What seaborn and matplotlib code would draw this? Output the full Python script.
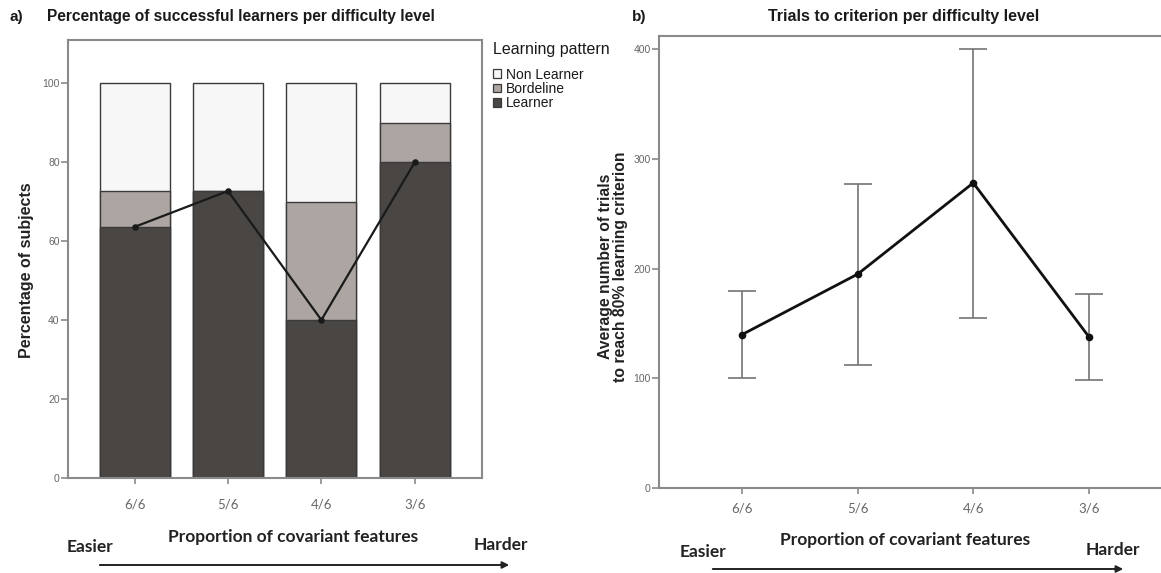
import numpy as np
import pandas as pd
import matplotlib
matplotlib.use("Agg")
import matplotlib.pyplot as plt
from matplotlib.patches import Patch, FancyArrowPatch
import seaborn as sns

# ---- data -------------------------------------------------------------
levels = ["6/6", "5/6", "4/6", "3/6"]

# percentage of subjects per learning pattern (panel a)
learner = [63.6, 72.7, 40.0, 80.0]
borderline = [9.1, 0.0, 30.0, 10.0]
non_learner = [27.3, 27.3, 30.0, 10.0]

# trials to criterion (panel b): mean with lower / upper interval bounds
trials_mean = [140, 195, 278, 138]
trials_low = [100, 112, 155, 99]
trials_high = [180, 277, 400, 177]

pattern_labels = ["Non Learner", "Bordeline", "Learner"]

# ---- style ------------------------------------------------------------
sns.set_theme(style="white")
plt.rcParams["font.family"] = ["Liberation Sans", "DejaVu Sans"]

C_LEARN = "#4a4644"
C_BORDER = "#aca5a2"
C_NON = "#f7f7f7"
C_EDGE = "#3a3a3a"
C_SPINE = "#8a8a8a"
C_TICK = "#666666"

W, H = 1161, 573
fig = plt.figure(figsize=(W / 100, H / 100), dpi=100)


def px(x, y):
    return x / W, 1 - y / H


def box(l, t, r, b):
    return [l / W, 1 - b / H, (r - l) / W, (b - t) / H]


ax1 = fig.add_axes(box(68, 40, 482, 477.7))
ax2 = fig.add_axes(box(659, 35.7, 1172, 488.3))

# ---- panel a: stacked bars -------------------------------------------
df = pd.DataFrame({
    "level": levels,
    "learner": learner,
    "borderline": borderline,
    "non": non_learner,
})
df["top_border"] = df["learner"] + df["borderline"]
df["top_all"] = df["top_border"] + df["non"]

for col, colr in [("top_all", C_NON), ("top_border", C_BORDER), ("learner", C_LEARN)]:
    sns.barplot(data=df, x="level", y=col, order=levels, color=colr,
                width=0.75, edgecolor=C_EDGE, linewidth=1.0,
                saturation=1, ax=ax1)

sns.pointplot(data=df, x="level", y="learner", order=levels, color="#1a1a1a",
              errorbar=None, markers="o", markersize=3.5, linewidth=1.6, ax=ax1)

ax1.set_xlim(-0.713, 3.72)
ax1.set_ylim(0, 111)
ax1.set_yticks([0, 20, 40, 60, 80, 100])
ax1.set_xlabel("")
ax1.set_ylabel("Percentage of subjects", fontsize=11.5, fontweight="bold",
               color="#222222")
ax1.yaxis.set_label_coords(-0.082, 0.475)

# ---- panel b: mean trials with interval bars -------------------------
dfb = pd.DataFrame({"level": levels, "mean": trials_mean,
                    "low": trials_low, "high": trials_high})
yerr = np.vstack([dfb["mean"] - dfb["low"], dfb["high"] - dfb["mean"]])
ax2.errorbar(np.arange(len(levels)), dfb["mean"], yerr=yerr, fmt="none",
             ecolor="#747474", elinewidth=1.2, capsize=10, capthick=1.2,
             zorder=1)
sns.pointplot(data=dfb, x="level", y="mean", order=levels, color="#111111",
              errorbar=None, markers="o", markersize=4, linewidth=2.0, ax=ax2)

ax2.set_xlim(-0.72, 3.72)
ax2.set_ylim(0, 412)
ax2.set_yticks([0, 100, 200, 300, 400])
ax2.set_xlabel("")
ax2.set_ylabel("Average number of trials\nto reach 80% learning criterion",
               fontsize=11.3, fontweight="bold", color="#222222",
               linespacing=1.0)
ax2.yaxis.set_label_coords(-0.060, 0.49)

# ---- shared axis styling ---------------------------------------------
for ax, pad in [(ax1, 11), (ax2, 6)]:
    for s in ax.spines.values():
        s.set_visible(True)
        s.set_color(C_SPINE)
        s.set_linewidth(1.5)
    ax.tick_params(axis="y", which="major", direction="out", length=5,
                   width=1.2, color=C_SPINE, labelsize=7.5,
                   labelcolor=C_TICK, pad=1, left=True)
    ax.tick_params(axis="x", which="major", direction="out", length=4,
                   width=1.2, color=C_SPINE, labelsize=9.5,
                   labelcolor=C_TICK, pad=pad, bottom=True)
    for lbl in ax.get_xticklabels():
        lbl.set_fontfamily(["Lato", "DejaVu Sans"])

# ---- titles -----------------------------------------------------------
fig.text(*px(10, 17), "a)", fontsize=11, fontweight="bold",
         ha="left", va="center", color="#1a1a1a")
fig.text(*px(47, 17), "Percentage of successful learners per difficulty level",
         fontsize=11.2, fontweight="bold", ha="left", va="center",
         color="#1a1a1a")
fig.text(*px(632, 17), "b)", fontsize=11, fontweight="bold",
         ha="left", va="center", color="#1a1a1a")
fig.text(*px(904, 17), "Trials to criterion per difficulty level",
         fontsize=11.5, fontweight="bold", ha="center", va="center",
         color="#1a1a1a")

# ---- legend ------------------------------------------------------------
handles = [Patch(facecolor=c, edgecolor=C_EDGE, linewidth=0.9)
           for c in (C_NON, C_BORDER, C_LEARN)]
leg = fig.legend(handles, pattern_labels, title="Learning pattern",
                 loc="upper left", bbox_to_anchor=px(487, 36), frameon=False,
                 fontsize=10, title_fontsize=11.5, handlelength=0.6,
                 handleheight=0.6, handletextpad=0.35, labelspacing=0.02,
                 borderaxespad=0, alignment="left")
leg.get_title().set_color("#1a1a1a")
for t in leg.get_texts():
    t.set_color("#1a1a1a")
leg._legend_box.sep = 8

# ---- x captions and difficulty arrows -----------------------------------
cap_font = dict(fontfamily=["Lato", "DejaVu Sans"], fontweight="bold",
                color="#222222", fontsize=12.5)
for cx, cy, ex, ey, hx, hy, a0, a1, ay in [
        (293, 537, 67, 547, 528, 545, 97, 512, 565),
        (905, 540, 680, 552, 1140, 550, 710, 1126, 569)]:
    fig.text(*px(cx, cy), "Proportion of covariant features", ha="center",
             va="center", **cap_font)
    fig.text(*px(ex, ey), "Easier", ha="left", va="center", **cap_font)
    fig.text(*px(hx, hy), "Harder", ha="right", va="center", **cap_font)
    fig.add_artist(FancyArrowPatch(
        px(a0, ay), px(a1, ay), transform=fig.transFigure,
        arrowstyle="-|>", mutation_scale=10, linewidth=1.4,
        color="#222222"))

fig.savefig("out.png", dpi=100)
